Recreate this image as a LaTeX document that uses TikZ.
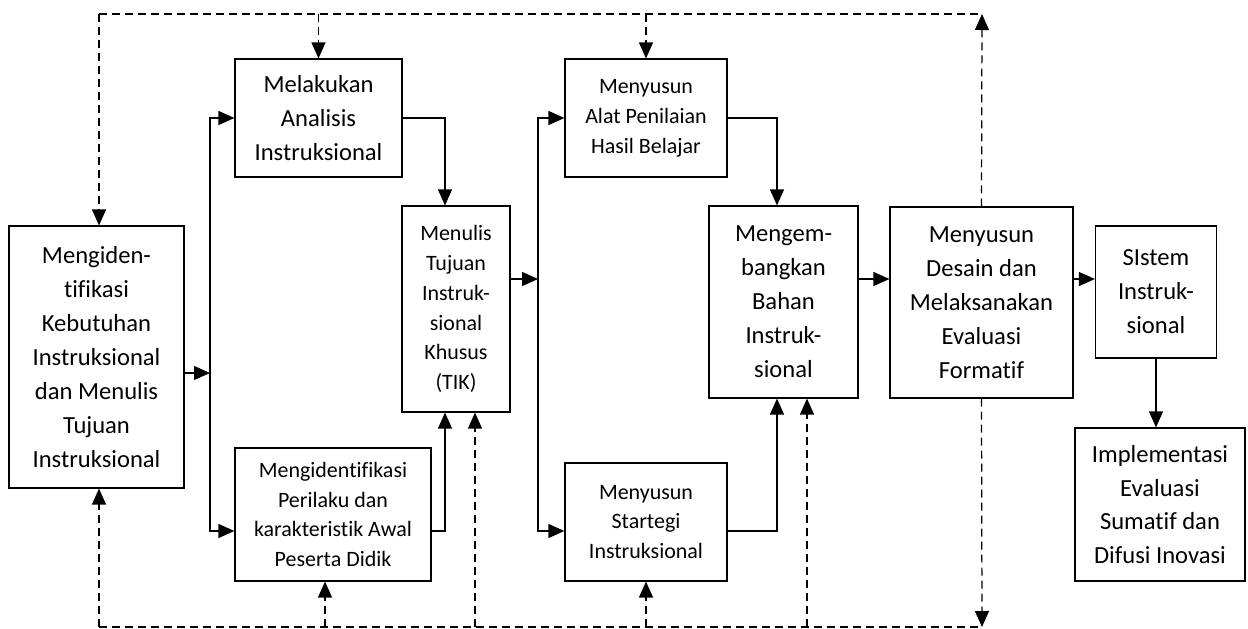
\documentclass[tikz,border=0pt]{standalone}
\usepackage{fontspec}
\setmainfont{Carlito}[Ligatures=NoCommon]
\usetikzlibrary{arrows.meta}

\begin{document}
\begin{tikzpicture}[x=0.02cm, y=-0.02cm,
	box/.style={draw, line width=0.7pt, align=center, inner sep=0pt},
	big/.style={font=\fontsize{14}{19.3}\selectfont},
	small/.style={font=\fontsize{12.5}{17}\selectfont},
	arr/.style={line width=0.7pt, -{Triangle[length=0.32cm, width=0.28cm]}},
	darr/.style={arr, dash pattern=on 0.16cm off 0.1cm},
	dline/.style={line width=0.7pt, dash pattern=on 0.16cm off 0.1cm}]
	\useasboundingbox (0,0) rectangle (1248,629);
	% boxes
	\node [box, big, minimum width=3.5cm, minimum height=5.24cm] (A) at (96.5,357) {Mengiden-\\tifikasi\\Kebutuhan\\Instruksional\\dan Menulis\\Tujuan\\Instruksional};
	\node [box, big, minimum width=3.34cm, minimum height=2.36cm] (B) at (318.5,118) {Melakukan\\Analisis\\Instruksional};
	\node [box, small, minimum width=2.16cm, minimum height=4.12cm] (C) at (456,309) {Menulis\\Tujuan\\Instruk-\\sional\\Khusus\\(TIK)};
	\node [box, small, minimum width=3.92cm, minimum height=2.66cm] (D) at (333,514.5) {Mengidentifikasi\\Perilaku dan\\karakteristik Awal\\Peserta Didik};
	\node [box, small, minimum width=3.24cm, minimum height=2.36cm] (E) at (646,118) {Menyusun\\Alat Penilaian\\Hasil Belajar};
	\node [box, small, minimum width=3.24cm, minimum height=2.36cm] (J) at (646,522) {Menyusun\\Startegi\\Instruksional};
	\node [box, big, minimum width=2.98cm, minimum height=3.84cm] (F) at (783.5,302) {Mengem-\\bangkan\\Bahan\\Instruk-\\sional};
	\node [box, big, minimum width=3.66cm, minimum height=3.82cm] (G) at (981.5,302.5) {Menyusun\\Desain dan\\Melaksanakan\\Evaluasi\\Formatif};
	\node [box, big, minimum width=2.42cm, minimum height=2.64cm] (H) at (1156,292) {SIstem\\Instruk-\\sional};
	\node [box, big, minimum width=3.4cm, minimum height=3.06cm] (I) at (1160,504.5) {Implementasi\\Evaluasi\\Sumatif dan\\Difusi Inovasi};
	% junction points
	\coordinate (s1) at (210,373);
	\coordinate (s2) at (538,279);
	\coordinate (c1) at (445,118);
	\coordinate (f1) at (777,118);
	\coordinate (lowY) at (0,531);
	\coordinate (midY) at (0,279);
	% solid flow
	\draw [arr] (A.east |- s1) -- (s1);
	\draw [arr] (s1) |- (B.west);
	\draw [arr] (s1) |- (D.west |- lowY);
	\draw [arr] (B.east) -| (c1 |- C.north);
	\draw [arr] (D.east |- lowY) -| (c1 |- C.south);
	\draw [arr] (C.east |- s2) -- (s2);
	\draw [arr] (s2) |- (E.west);
	\draw [arr] (s2) |- (J.west |- lowY);
	\draw [arr] (E.east) -| (f1 |- F.north);
	\draw [arr] (J.east |- lowY) -| (f1 |- F.south);
	\draw [arr] (F.east |- midY) -- (G.west |- midY);
	\draw [arr] (G.east |- midY) -- (H.west |- midY);
	\draw [arr] (H.south) -- (H.south |- I.north);
	% dashed feedback, top
	\coordinate (topL) at (99,14);
	\coordinate (topR) at (982,14);
	\draw [dline] (topL) -- (topR);
	\draw [darr] (topL) -- (topL |- A.north);
	\draw [darr] (B.north |- topL) -- (B.north);
	\draw [darr] (E.north |- topL) -- (E.north);
	\draw [darr] (G.north) -- (topR);
	% dashed feedback, bottom
	\coordinate (botL) at (99,627);
	\coordinate (botR) at (982,627);
	\coordinate (dd) at (325,627);
	\coordinate (cc) at (475,627);
	\coordinate (ff) at (807,627);
	\draw [dline] (botL) -- (botR);
	\draw [darr] (botL) -- (botL |- A.south);
	\draw [darr] (dd) -- (dd |- D.south);
	\draw [darr] (cc) -- (cc |- C.south);
	\draw [darr] (J.south |- botL) -- (J.south);
	\draw [darr] (ff) -- (ff |- F.south);
	\draw [darr] (G.south) -- (botR);
\end{tikzpicture}
\end{document}
